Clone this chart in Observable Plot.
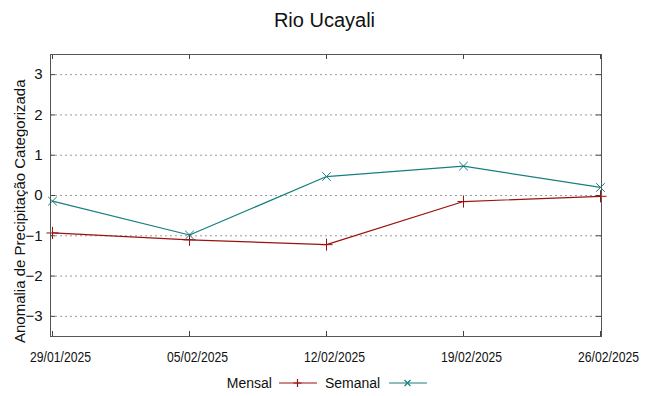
<!DOCTYPE html>
<html><head><meta charset="utf-8">
<script src="https://cdn.jsdelivr.net/npm/d3@7"></script>
<script src="https://cdn.jsdelivr.net/npm/@observablehq/plot@0.6"></script>
<style>
body{margin:0;background:#fff;font-family:"Liberation Sans",Arial,sans-serif;color:#111;}
#wrap{position:relative;width:649px;height:396px;overflow:hidden;}
#title{height:40px;line-height:40px;text-align:center;font-size:20px;}
#ylabel{position:absolute;left:11px;top:71px;height:280px;line-height:17px;writing-mode:vertical-rl;transform:rotate(180deg);text-align:center;white-space:nowrap;font-size:15px;}
#legend{height:26px;display:flex;align-items:center;justify-content:center;padding-left:5px;font-size:14px;}
#legend span{display:inline-block}
</style></head><body>
<div id="wrap">
<div id="title">Rio Ucayali</div>
<div id="chart"></div>
<div id="legend"></div>
<div id="ylabel">Anomalia de Precipitação Categorizada</div>
</div>
<script>
const dates = ["29/01/2025","05/02/2025","12/02/2025","19/02/2025","26/02/2025"];
const mensal = [-0.93,-1.10,-1.22,-0.15,-0.02];
const semanal = [-0.14,-0.98,0.47,0.73,0.20];
const yTicks = [-3,-2,-1,0,1,2,3];
const seriesNames = ["Mensal","Semanal"];
const seriesColors = ["#9b1111","#167f80"];
const seriesSymbols = ["plus","times"];

const data = dates.flatMap((d,i)=>[
  {date:d, value:mensal[i], serie:seriesNames[0]},
  {date:d, value:semanal[i], serie:seriesNames[1]}
]);

const W = 649, H = 330, mL = 50, mR = 48, mT = 14, mB = 34;
const plotW = W - mL - mR, plotH = H - mT - mB, tick = 5;

const chart = Plot.plot({
  width:W, height:H,
  marginTop:mT, marginBottom:mB, marginLeft:mL, marginRight:mR,
  style:{fontFamily:'"Liberation Sans",Arial,sans-serif', color:"#111", background:"#fff"},
  x:{type:"point", domain:dates, padding:0},
  y:{domain:[-3.5,3.5]},
  color:{domain:seriesNames, range:seriesColors},
  symbol:{domain:seriesNames, range:seriesSymbols},
  marks:[
    Plot.gridY(yTicks,{stroke:"#9a9a9a", strokeOpacity:1, strokeDasharray:"2,3"}),
    Plot.axisY(yTicks,{anchor:"left", tickSize:0, tickPadding:8, fontSize:15, label:null}),
    Plot.axisX(dates,{anchor:"bottom", tickSize:0, tickPadding:15, dx:8, fontSize:14.5, label:null}),
    // inward tick marks on all four sides
    Plot.tickY(yTicks,{y:d=>d, insetRight:plotW - tick, stroke:"#444"}),
    Plot.tickY(yTicks,{y:d=>d, insetLeft:plotW - tick, stroke:"#444"}),
    Plot.tickX(dates,{x:d=>d, insetTop:plotH - tick, stroke:"#444"}),
    Plot.tickX(dates,{x:d=>d, insetBottom:plotH - tick, stroke:"#444"}),
    Plot.line(data,{x:"date", y:"value", z:"serie", stroke:"serie", strokeWidth:1.2}),
    Plot.dot(data,{x:"date", y:"value", stroke:"serie", symbol:"serie", r:4, strokeWidth:1}),
    Plot.frame({stroke:"#555", strokeWidth:1})
  ]
});
// condensed look of the date labels
chart.querySelectorAll('g[aria-label="x-axis tick label"] text').forEach(t=>{
  t.setAttribute("textLength", 61);
  t.setAttribute("lengthAdjust", "spacingAndGlyphs");
});
document.getElementById("chart").appendChild(chart);

const legend = document.getElementById("legend");
seriesNames.forEach((name,i)=>{
  const t = document.createElement("span");
  t.textContent = name;
  t.style.marginRight = i===0 ? "7px" : "9px";
  legend.appendChild(t);
  const sym = seriesSymbols[i]==="plus"
    ? `<path d="M18.5,-4V4M14.5,0H22.5" />`
    : `<path d="M15.5,-3L21.5,3M15.5,3L21.5,-3" />`;
  const s = document.createElement("span");
  s.innerHTML = `<svg width="38" height="12" viewBox="0 -6 38 12" style="display:block"><g stroke="${seriesColors[i]}" stroke-width="1.2" fill="none"><path d="M0,0H38"/>${sym}</g></svg>`;
  s.style.marginRight = i===0 ? "8px" : "0";
  legend.appendChild(s);
});
</script>
</body></html>
